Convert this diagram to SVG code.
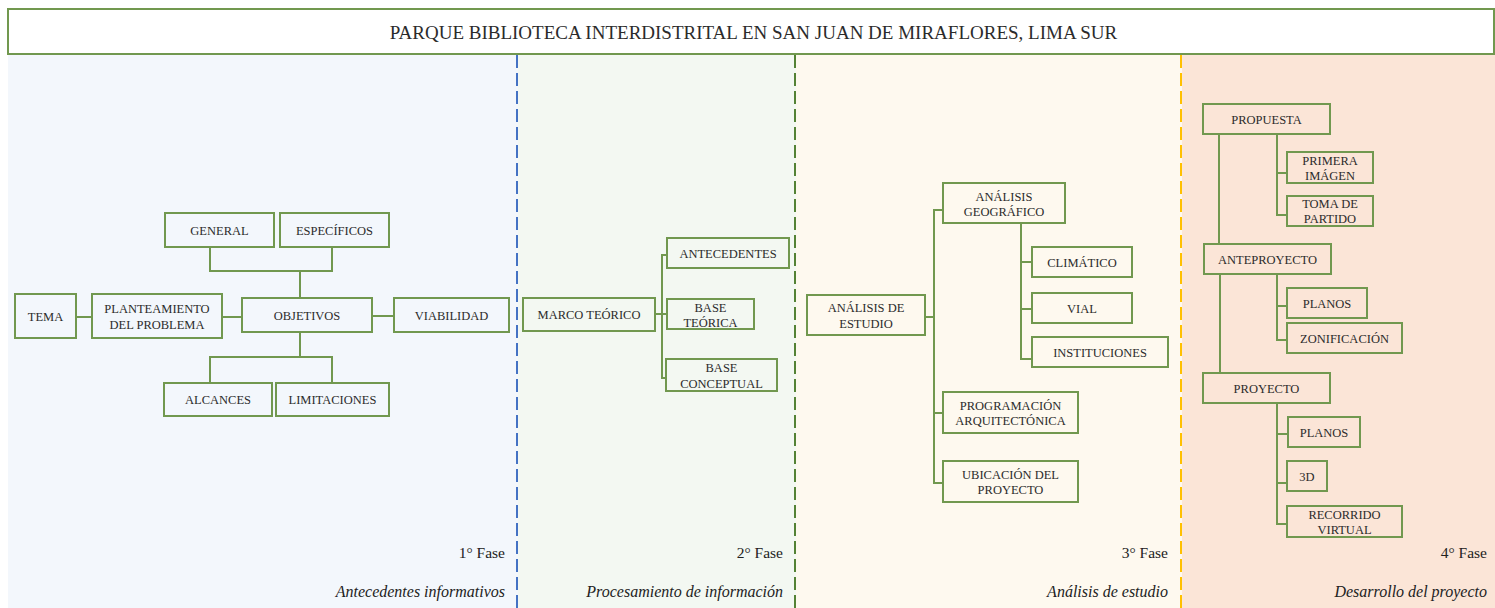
<svg xmlns="http://www.w3.org/2000/svg" width="1495" height="608" viewBox="0 0 1495 608">
<style>
.n rect{fill:none;stroke:#71984f;stroke-width:2}
.n text,.t{font-family:"Liberation Serif","Times New Roman",serif;font-size:12.5px;fill:#2b2b2b;text-anchor:middle}
.c path{fill:none;stroke:#71984f;stroke-width:2}
.f{font-family:"Liberation Serif","Times New Roman",serif;font-size:15.5px;fill:#222;text-anchor:end}
.i{font-style:italic;font-size:16px}
.d{fill:none;stroke-width:2;stroke-dasharray:13 5}
</style>
<rect width="1495" height="608" fill="#ffffff"/>
<g id="panels">
<rect x="8" y="55" width="510" height="553" fill="#f3f7fc"/>
<rect x="518" y="55" width="278" height="553" fill="#f3f8f2"/>
<rect x="796" y="55" width="386" height="553" fill="#fef9ef"/>
<rect x="1182" y="55" width="313" height="553" fill="#fbe5d7"/>
<path class="d" d="M517,55V608" stroke="#4472c4"/>
<path class="d" d="M795,55V608" stroke="#548235"/>
<path class="d" d="M1181,55V608" stroke="#ffc000"/>
</g>
<g id="title" class="n">
<rect x="8" y="9" width="1486" height="45" fill="#ffffff"/>
<text x="753.5" y="38.5" style="font-size:19px">PARQUE BIBLIOTECA INTERDISTRITAL EN SAN JUAN DE MIRAFLORES, LIMA SUR</text>
</g>
<g id="connectors" class="c">
<path d="M76,317H92M222,317H242M372,316H394M210,247V271H332V247M300,271V298M300,332V357M210,383V357H332V383"/>
<path d="M655,314H662M667,255H662V378H666M662,314H667"/>
<path d="M925,317H934M943,210H934V483H943M934,413H943M1021,223V359H1032M1021,262H1032M1021,309H1032"/>
<path d="M1219,134V244M1277,134V215H1287M1277,173H1287M1220,274V373M1277,274V340H1287M1277,306H1287M1277,403V524H1287M1277,434H1287M1277,483H1287"/>
</g>
<g id="general" class="n"><rect x="165" y="213" width="109" height="34"/><text x="219.5" y="234.5">GENERAL</text></g>
<g id="especificos" class="n"><rect x="280" y="213" width="109" height="34"/><text x="334.5" y="234.5">ESPECÍFICOS</text></g>
<g id="tema" class="n"><rect x="15" y="294" width="61" height="44"/><text x="45.5" y="320.5">TEMA</text></g>
<g id="planteamiento" class="n"><rect x="92" y="294" width="130" height="44"/><text x="157" y="312.5">PLANTEAMIENTO</text><text x="157" y="328.5">DEL PROBLEMA</text></g>
<g id="objetivos" class="n"><rect x="242" y="298" width="130" height="34"/><text x="307" y="319.5">OBJETIVOS</text></g>
<g id="viabilidad" class="n"><rect x="394" y="298" width="115" height="34"/><text x="451.5" y="319.5">VIABILIDAD</text></g>
<g id="alcances" class="n"><rect x="164" y="383" width="108" height="33"/><text x="218" y="404">ALCANCES</text></g>
<g id="limitaciones" class="n"><rect x="276" y="383" width="113" height="33"/><text x="332.5" y="404">LIMITACIONES</text></g>
<g id="marco" class="n"><rect x="523" y="298" width="132" height="33"/><text x="589" y="319">MARCO TEÓRICO</text></g>
<g id="antecedentes" class="n"><rect x="667" y="238" width="122" height="30"/><text x="728" y="257.5">ANTECEDENTES</text></g>
<g id="baseteorica" class="n"><rect x="667" y="299" width="87" height="30"/><text x="710.5" y="311.5">BASE</text><text x="710.5" y="326.5">TEÓRICA</text></g>
<g id="baseconceptual" class="n"><rect x="666" y="359" width="111" height="32"/><text x="721.5" y="371.5">BASE</text><text x="721.5" y="387.5">CONCEPTUAL</text></g>
<g id="analisisestudio" class="n"><rect x="807" y="295" width="118" height="40"/><text x="866" y="311.5">ANÁLISIS DE</text><text x="866" y="327.5">ESTUDIO</text></g>
<g id="geografico" class="n"><rect x="943" y="183" width="122" height="40"/><text x="1004" y="200.5">ANÁLISIS</text><text x="1004" y="215.5">GEOGRÁFICO</text></g>
<g id="climatico" class="n"><rect x="1032" y="247" width="100" height="30"/><text x="1082" y="266.5">CLIMÁTICO</text></g>
<g id="vial" class="n"><rect x="1032" y="293" width="100" height="30"/><text x="1082" y="312.5">VIAL</text></g>
<g id="instituciones" class="n"><rect x="1032" y="337" width="136" height="30"/><text x="1100" y="356.5">INSTITUCIONES</text></g>
<g id="programacion" class="n"><rect x="943" y="392" width="135" height="41"/><text x="1010.5" y="409.5">PROGRAMACIÓN</text><text x="1010.5" y="424.5">ARQUITECTÓNICA</text></g>
<g id="ubicacion" class="n"><rect x="943" y="461" width="135" height="41"/><text x="1010.5" y="478.5">UBICACIÓN DEL</text><text x="1010.5" y="493.5">PROYECTO</text></g>
<g id="propuesta" class="n"><rect x="1203" y="104" width="127" height="30"/><text x="1266.5" y="123.5">PROPUESTA</text></g>
<g id="primeraimagen" class="n"><rect x="1287" y="152" width="86" height="31"/><text x="1330" y="164.5">PRIMERA</text><text x="1330" y="179.5">IMÁGEN</text></g>
<g id="tomapartido" class="n"><rect x="1287" y="196" width="86" height="30"/><text x="1330" y="207.5">TOMA DE</text><text x="1330" y="222.5">PARTIDO</text></g>
<g id="anteproyecto" class="n"><rect x="1204" y="244" width="127" height="30"/><text x="1267.5" y="263.5">ANTEPROYECTO</text></g>
<g id="planos1" class="n"><rect x="1287" y="288" width="80" height="30"/><text x="1327" y="307.5">PLANOS</text></g>
<g id="zonificacion" class="n"><rect x="1287" y="323" width="115" height="30"/><text x="1344.5" y="342.5">ZONIFICACIÓN</text></g>
<g id="proyecto" class="n"><rect x="1203" y="373" width="127" height="30"/><text x="1266.5" y="392.5">PROYECTO</text></g>
<g id="planos2" class="n"><rect x="1288" y="417" width="72" height="30"/><text x="1324" y="436.5">PLANOS</text></g>
<g id="d3" class="n"><rect x="1287" y="461" width="40" height="30"/><text x="1307" y="480.5">3D</text></g>
<g id="recorrido" class="n"><rect x="1287" y="506" width="115" height="31"/><text x="1344.5" y="518.5">RECORRIDO</text><text x="1344.5" y="533.5">VIRTUAL</text></g>
<g id="labels">
<text class="f" x="505" y="557.5">1° Fase</text>
<text class="f i" x="505" y="596.5">Antecedentes informativos</text>
<text class="f" x="783" y="557.5">2° Fase</text>
<text class="f i" x="783" y="596.5">Procesamiento de información</text>
<text class="f" x="1168" y="557.5">3° Fase</text>
<text class="f i" x="1168" y="596.5">Análisis de estudio</text>
<text class="f" x="1487" y="557.5">4° Fase</text>
<text class="f i" x="1487" y="596.5">Desarrollo del proyecto</text>
</g>
</svg>
